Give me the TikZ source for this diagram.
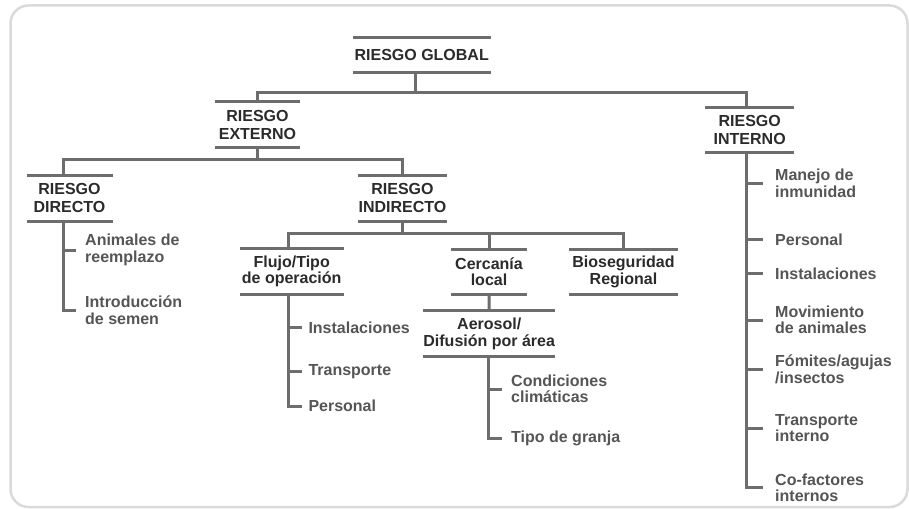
\documentclass[tikz,border=0pt]{standalone}
\usepackage{fontspec}
\setmainfont{Liberation Sans}
\usepackage{tikz}

\definecolor{textocab}{HTML}{2B2B2B}
\definecolor{textosub}{HTML}{555555}
\definecolor{gris}{HTML}{6D6D6D}
\definecolor{marco}{HTML}{DADADA}

\tikzset{
    cab/.style={align=center, inner sep=0pt, text=textocab,
        font=\fontsize{16}{16.5}\selectfont\bfseries},
    riesgo/.style={cab, font=\fontsize{16}{18}\selectfont\bfseries,
        minimum width=85pt, minimum height=45.5pt},
    sub/.style={anchor=west, align=left, inner ysep=0pt, inner xsep=9pt,
        text=textosub, font=\fontsize{16}{16.5}\selectfont\bfseries},
    conector/.style={draw=gris, line width=3pt},
}

\begin{document}
\begin{tikzpicture}[x=1pt, y=-1pt]
    \useasboundingbox (0,0) rectangle (909,508);
    % Marco
    \draw[marco, line width=2.5pt, rounded corners=18pt] (10.5,5.5) rectangle (907.5,507);
    % Riesgos
    \node[riesgo, minimum width=138pt, minimum height=35.5pt] (global) at (421.7,55) {RIESGO GLOBAL};
    \node[riesgo] (externo) at (257.5,124.7) {RIESGO\\EXTERNO};
    \node[riesgo, minimum width=89pt] (interno) at (749.7,130) {RIESGO\\INTERNO};
    \node[riesgo, minimum width=85.6pt] (directo) at (69.5,198.3) {RIESGO\\DIRECTO};
    \node[riesgo] (indirecto) at (402.5,198.3) {RIESGO\\INDIRECTO};
    \node[cab, minimum width=103.3pt, minimum height=46pt] (flujo) at (291.7,271.3) {Flujo/Tipo\\de operación};
    \node[cab, minimum width=76pt, minimum height=45pt] (cercania) at (489,271.8) {Cercanía\\local};
    \node[cab, minimum width=108.4pt, minimum height=45pt] (bioseg) at (623.5,271.8) {Bioseguridad\\Regional};
    \node[cab, minimum width=128.3pt, minimum height=45.7pt] (aerosol) at (489.2,333.9) {Aerosol/\\Difusión por área};
    % Barras arriba y abajo
    \foreach \n in {global,externo,interno,directo,indirecto,flujo,cercania,bioseg,aerosol}
        \draw[conector] (\n.north west) -- (\n.north east) (\n.south west) -- (\n.south east);
    % Uniones entre niveles
    \draw[conector] ([xshift=-6.7pt]global.south) -- ++(0,20);
    \draw[conector] (externo.north) -- ++(0,-9) -| ([xshift=-3pt]interno.north);
    \draw[conector] (externo.south) -- ++(0,12.3);
    \draw[conector] ([xshift=-6.2pt]directo.north) -- ++(0,-15.7) -| (indirecto.north);
    \draw[conector] (indirecto.south) -- ++(0,12.3);
    \draw[conector] ([xshift=-3.4pt]flujo.north) -- ++(0,-15) -| (bioseg.north);
    \draw[conector] (cercania.north) -- ++(0,-16);
    \draw[conector] (cercania.south) -- (aerosol.north);
    % Riesgo directo
    \node[sub] (animales) at (76,250) {Animales de\\reemplazo};
    \node[sub] (semen) at (76,310) {Introducción\\de semen};
    \foreach \s in {animales,semen}
        \draw[conector] ([xshift=-6.2pt]directo.south) |- (\s.west);
    % Flujo
    \node[sub, inner xsep=6.6pt] (instalacionesA) at (301.7,327.3) {Instalaciones};
    \node[sub, inner xsep=6.6pt] (transporteA) at (301.7,371.7) {Transporte};
    \node[sub, inner xsep=6.6pt] (personalA) at (301.7,406) {Personal};
    \foreach \s in {instalacionesA,transporteA,personalA}
        \draw[conector] ([xshift=-3.4pt]flujo.south) |- (\s.west);
    % Aerosol
    \node[sub, inner xsep=9.3pt] (condiciones) at (501.7,389) {Condiciones\\climáticas};
    \node[sub, inner xsep=9.3pt] (granja) at (501.7,438.3) {Tipo de granja};
    \foreach \s in {condiciones,granja}
        \draw[conector] ([xshift=-0.9pt]aerosol.south) |- (\s.west);
    % Riesgo interno
    \node[sub, inner xsep=11.7pt] (manejo) at (763.3,183.5) {Manejo de\\inmunidad};
    \node[sub, inner xsep=11.7pt] (personalB) at (763.3,239.3) {Personal};
    \node[sub, inner xsep=11.7pt] (instalacionesB) at (763.3,273.3) {Instalaciones};
    \node[sub, inner xsep=11.7pt] (movimiento) at (763.3,320) {Movimiento\\de animales};
    \node[sub, inner xsep=11.7pt] (fomites) at (763.3,369.3) {Fómites/agujas\\/insectos};
    \node[sub, inner xsep=11.7pt] (transporteB) at (763.3,428.3) {Transporte\\interno};
    \node[sub, inner xsep=11.7pt] (cofactores) at (763.3,487.7) {Co-factores\\internos};
    \foreach \s in {manejo,personalB,instalacionesB,movimiento,fomites,transporteB,cofactores}
        \draw[conector] ([xshift=-3pt]interno.south) |- (\s.west);
\end{tikzpicture}
\end{document}
